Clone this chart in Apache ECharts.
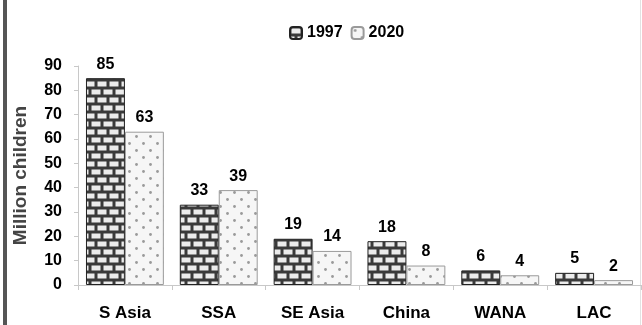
<!DOCTYPE html>
<html>
<head>
<meta charset="utf-8">
<script src="https://cdn.jsdelivr.net/npm/echarts@6/dist/echarts.min.js"></script>
<style>
  html, body { margin: 0; padding: 0; background: #fff; }
  #chart { width: 642px; height: 325px; }
</style>
</head>
<body>
<div id="chart"></div>
<script>
// Regions and values (million children)
const categories = ['S Asia', 'SSA', 'SE Asia', 'China', 'WANA', 'LAC'];
const values1997 = [85, 33, 19, 18, 6, 5];
const values2020 = [63, 39, 14, 8, 4, 2];
const seriesNames = ['1997', '2020'];
const yTicks = [0, 10, 20, 30, 40, 50, 60, 70, 80, 90];

// Brick fill for the 1997 bars
function brickPattern() {
  const c = document.createElement('canvas');
  c.width = 12; c.height = 16;
  const g = c.getContext('2d');
  g.fillStyle = '#3a3a3a';
  g.fillRect(0, 0, 12, 16);
  g.fillStyle = '#ececec';
  g.fillRect(1.5, 1.5, 9, 5);
  g.fillRect(-4.5, 9.5, 9, 5);
  g.fillRect(7.5, 9.5, 9, 5);
  return c;
}

// Dotted fill for the 2020 bars
function dotPattern() {
  const c = document.createElement('canvas');
  c.width = 14; c.height = 14;
  const g = c.getContext('2d');
  g.fillStyle = '#f6f6f6';
  g.fillRect(0, 0, 14, 14);
  g.fillStyle = '#9a9a9a';
  g.beginPath(); g.arc(3.5, 3.5, 1.4, 0, Math.PI * 2); g.fill();
  g.beginPath(); g.arc(10.5, 10.5, 1.4, 0, Math.PI * 2); g.fill();
  return c;
}

const font = 'Liberation Sans, Arial, sans-serif';
const chart = echarts.init(document.getElementById('chart'), null, { renderer: 'canvas' });

chart.setOption({
  animation: false,
  backgroundColor: '#fff',
  textStyle: { fontFamily: font },
  legend: {
    data: seriesNames,
    left: 284, top: 20,
    itemWidth: 12, itemHeight: 12, itemGap: 8,
    textStyle: { fontSize: 16, fontWeight: 'bold', color: '#000', fontFamily: font }
  },
  grid: { left: 78, right: 1, top: 66, bottom: 40, containLabel: false, outerBoundsMode: 'none' },
  xAxis: {
    type: 'category',
    data: categories,
    axisLine: { lineStyle: { color: '#c8c8c8', width: 1 } },
    axisTick: { show: true, length: 5, lineStyle: { color: '#c8c8c8' } },
    axisLabel: { margin: 20, fontSize: 17, fontWeight: 'bold', color: '#000', fontFamily: font }
  },
  yAxis: {
    type: 'value',
    min: 0, max: 90, interval: 10,
    name: 'Million children',
    nameLocation: 'middle',
    nameRotate: 90,
    nameGap: 48,
    nameTextStyle: { fontSize: 19, fontWeight: 'bold', color: '#444', fontFamily: font },
    splitLine: { show: false },
    axisLine: { show: true, lineStyle: { color: '#c8c8c8' } },
    axisTick: { show: true, length: 4, lineStyle: { color: '#c8c8c8' } },
    axisLabel: {
      margin: 16, fontSize: 16, fontWeight: 'bold', color: '#000', fontFamily: font,
      formatter: v => (yTicks.indexOf(v) >= 0 ? String(v) : '')
    }
  },
  series: [
    {
      name: seriesNames[0],
      type: 'bar',
      data: values1997,
      barGap: '0%',
      barCategoryGap: '17%',
      itemStyle: { color: { image: brickPattern(), repeat: 'repeat' }, borderColor: '#222', borderWidth: 1 },
      label: { show: true, position: 'top', distance: 6, fontSize: 16, fontWeight: 'bold', color: '#000', fontFamily: font }
    },
    {
      name: seriesNames[1],
      type: 'bar',
      data: values2020,
      itemStyle: { color: { image: dotPattern(), repeat: 'repeat' }, borderColor: '#9a9a9a', borderWidth: 1 },
      label: { show: true, position: 'top', distance: 6, fontSize: 16, fontWeight: 'bold', color: '#000', fontFamily: font }
    }
  ],
  graphic: [
    // frame edge on the left and faint edge on the right
    { type: 'rect', left: 3, top: 0, shape: { width: 4, height: 325 }, style: { fill: '#555' }, silent: true },
    { type: 'rect', left: 640, top: 0, shape: { width: 1, height: 325 }, style: { fill: '#e2e2e2' }, silent: true }
  ]
});
</script>
</body>
</html>
